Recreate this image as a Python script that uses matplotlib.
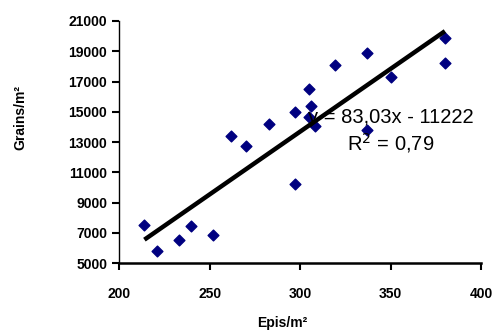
import numpy as np
import matplotlib.pyplot as plt

plt.rcParams['font.family'] = ['Liberation Sans', 'DejaVu Sans']

# epis per m2 vs grains per m2
epis = [214, 221, 233, 240, 252, 262, 270, 283, 297, 297,
        305, 306, 305, 308, 319, 337, 337, 350, 380, 380]
grains = [7500, 5800, 6500, 7450, 6830, 13430, 12770, 14200, 14980, 10210,
          16500, 15350, 14650, 14030, 18110, 18890, 13800, 17270, 19880, 18230]

slope, intercept = 83.03, -11222
x_ticks = [200, 250, 300, 350, 400]
y_ticks = [5000, 7000, 9000, 11000, 13000, 15000, 17000, 19000, 21000]

fig = plt.figure(figsize=(4.92, 3.33), dpi=100)
fig.patch.set_facecolor('white')
ax = fig.add_axes([0.242, 0.21, 0.736, 0.727])

xl = np.array([min(epis), max(epis)])
ax.plot(xl, slope * xl + intercept, color='black', lw=3.2, solid_capstyle='butt', zorder=3)
ax.scatter(epis, grains, marker='D', s=30, color='#000080', zorder=2)

ax.set_xlim(200, 400)
ax.set_ylim(5000, 21000)
ax.set_xticks(x_ticks)
ax.set_yticks(y_ticks)
ax.tick_params(direction='out', length=5, width=1.5, labelsize=10, colors='black')
ax.tick_params(axis='x', pad=12)
for lab in ax.get_xticklabels() + ax.get_yticklabels():
    lab.set_fontweight('bold')

for side in ['top', 'right']:
    ax.spines[side].set_visible(False)
ax.spines['left'].set_linewidth(1.0)
ax.spines['bottom'].set_linewidth(1.8)

ax.text(350, 14600, 'y = 83,03x - 11222', fontsize=14.5, ha='center', va='center', zorder=4)
ax.text(350, 12950, 'R$^2$ = 0,79', fontsize=14.5, ha='center', va='center', zorder=4)

fig.text(282 / 492, 1 - 323 / 333, 'Epis/m²', fontsize=10, fontweight='bold',
         ha='center', va='center')
fig.text(20 / 492, 1 - 118 / 333, 'Grains/m²', fontsize=10, fontweight='bold',
         rotation=90, ha='center', va='center')

fig.savefig('out.png', dpi=100)
